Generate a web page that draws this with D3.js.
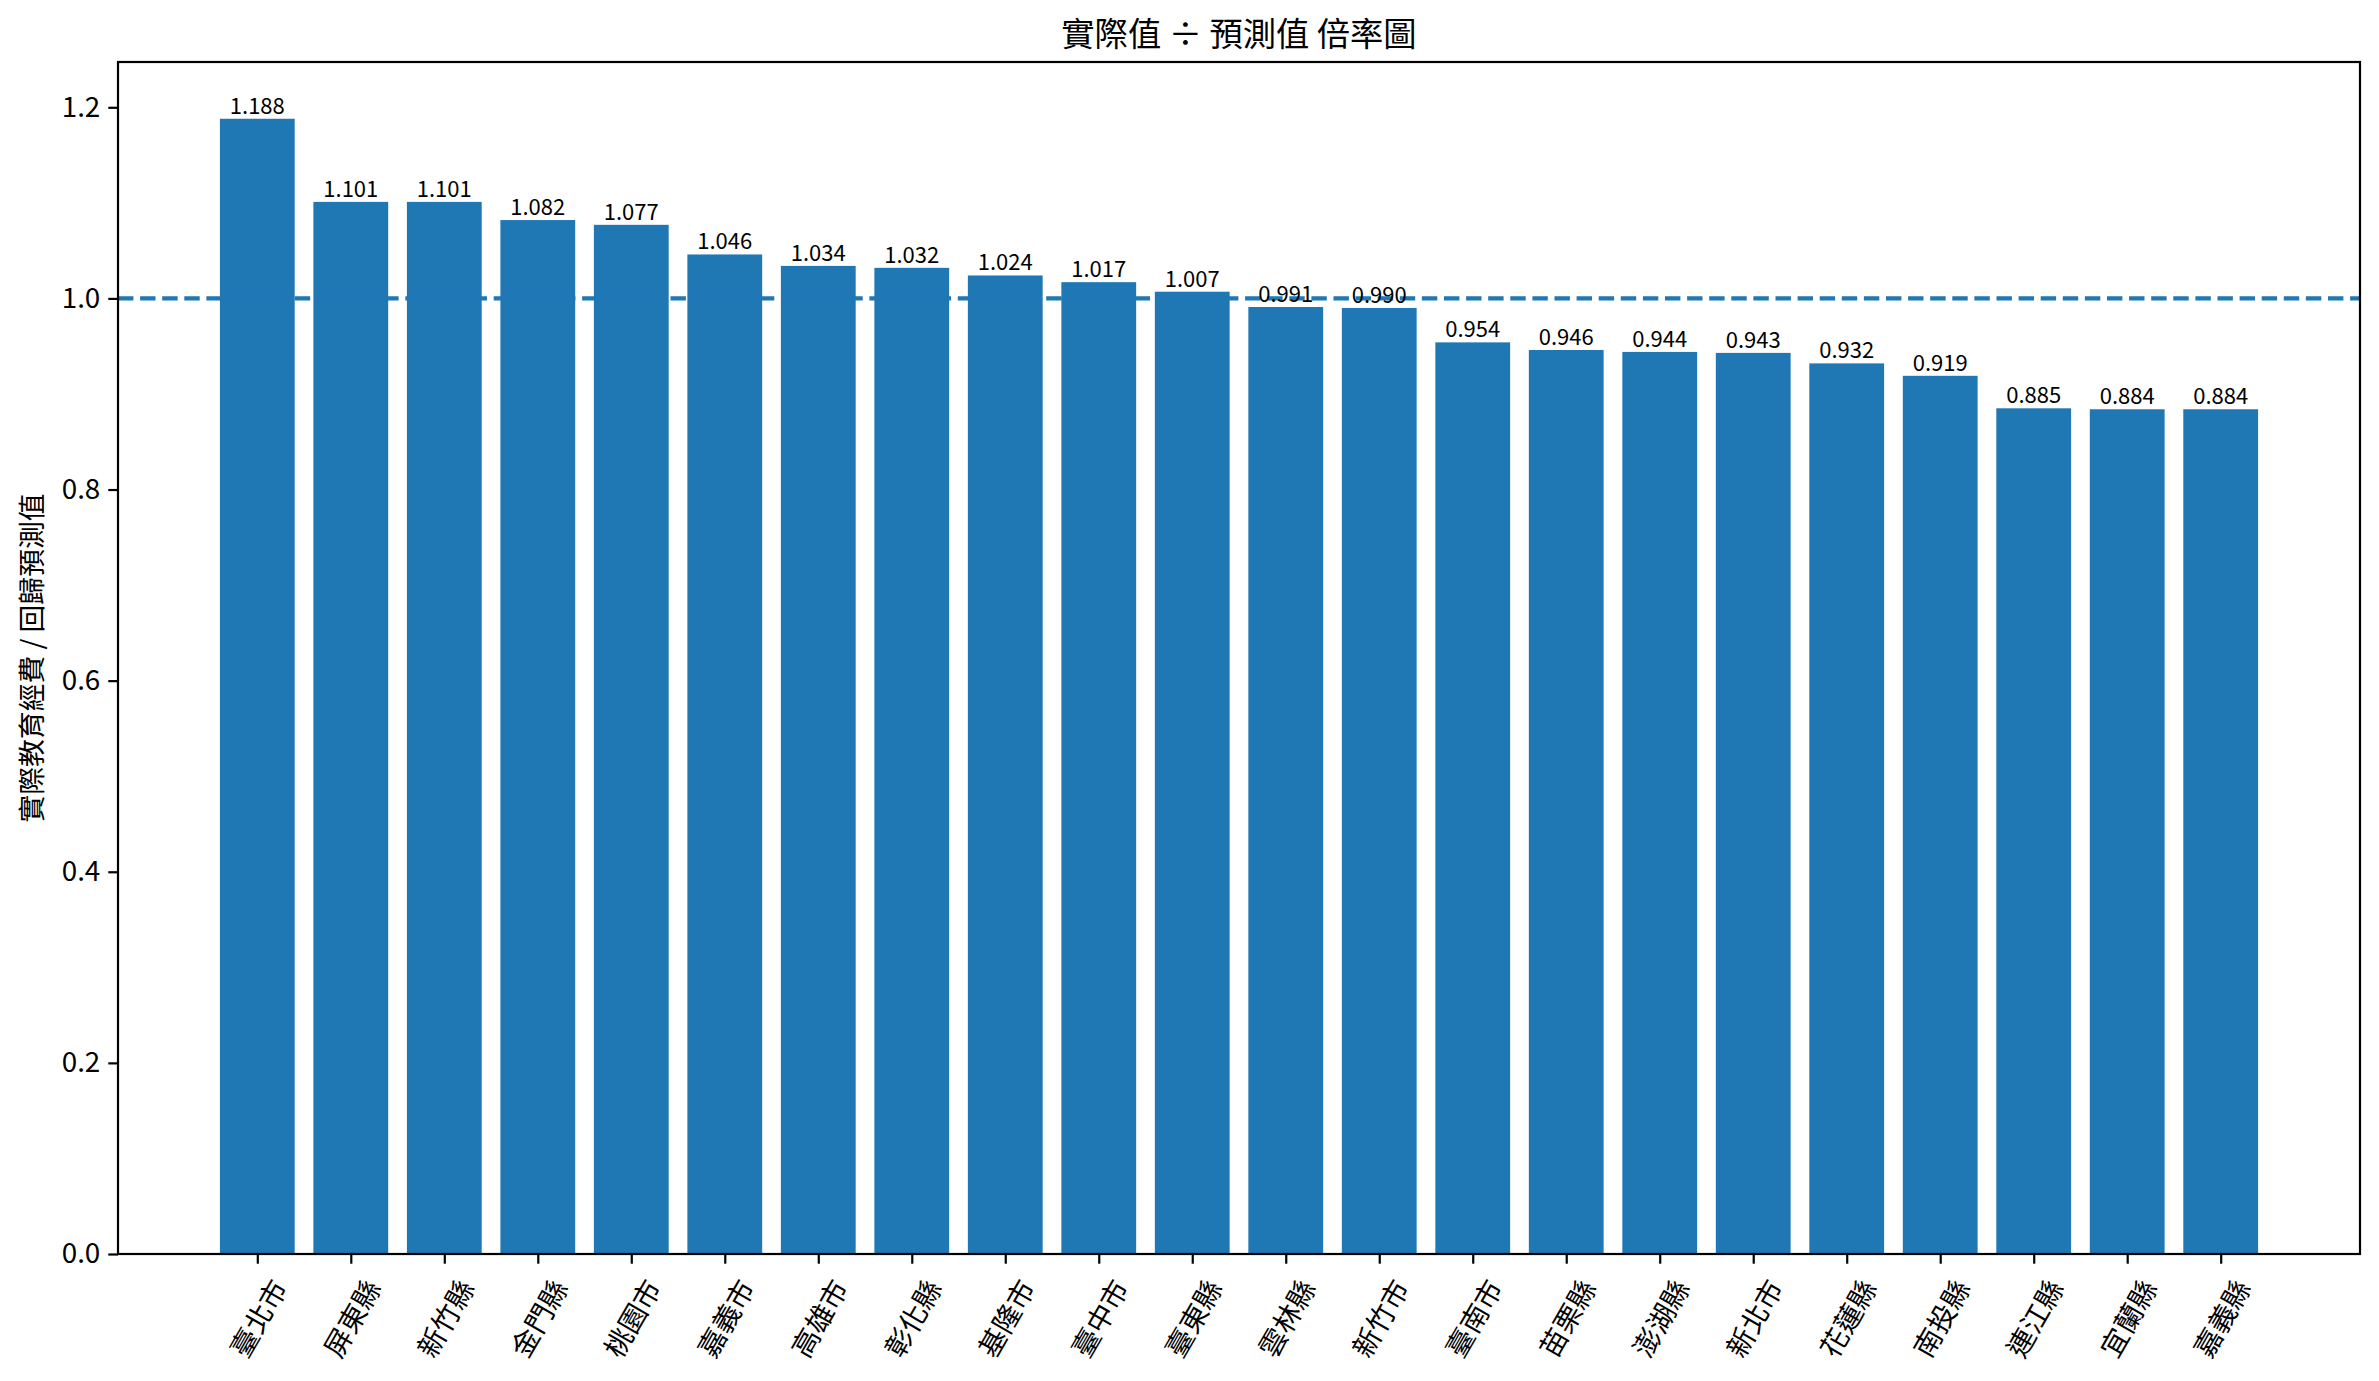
<!DOCTYPE html>
<html>
<head>
<meta charset="utf-8">
<script src="https://cdn.jsdelivr.net/npm/d3@7"></script>
<style>
  body { margin: 0; background: white; }
  text { font-family: "Noto Sans CJK TC", "Noto Sans", sans-serif; fill: black; }
</style>
</head>
<body>
<div id="chart"></div>
<script>
// data
const counties = ['臺北市', '屏東縣', '新竹縣', '金門縣', '桃園市', '嘉義市', '高雄市', '彰化縣', '基隆市', '臺中市', '臺東縣',
                  '雲林縣', '新竹市', '臺南市', '苗栗縣', '澎湖縣', '新北市', '花蓮縣', '南投縣', '連江縣', '宜蘭縣', '嘉義縣'];
const ratios = [1.188, 1.101, 1.101, 1.082, 1.077, 1.046, 1.034, 1.032, 1.024, 1.017, 1.007,
                0.991, 0.990, 0.954, 0.946, 0.944, 0.943, 0.932, 0.919, 0.885, 0.884, 0.884];
const yTicks = [0.0, 0.2, 0.4, 0.6, 0.8, 1.0, 1.2];
const refLine = 1.0;
const titleText = '實際值 ÷ 預測值 倍率圖';
const yLabel = '實際教育經費 / 回歸預測值';

const w = 2379;
const h = 1381;
const padL = 118, padR = 2360, padT = 62, padB = 1254;
const blue = '#1f77b4';

const svg = d3.select('#chart')
  .append('svg')
  .attr('width', w)
  .attr('height', h);

// matplotlib style limits: bars at integer positions, 5% margins
const n = counties.length;
const span = (n - 1) + 0.8;
const xScale = d3.scaleLinear([-0.4 - span * 0.05, n - 1 + 0.4 + span * 0.05], [padL, padR]);
const yScale = d3.scaleLinear([0, d3.max(ratios) * 1.05], [padB, padT]);

svg.selectAll('rect.bar')
  .data(ratios)
  .enter()
  .append('rect')
  .attr('class', 'bar')
  .attr('x', (d, i) => xScale(i - 0.4))
  .attr('width', (d, i) => xScale(i + 0.4) - xScale(i - 0.4))
  .attr('y', d => yScale(d))
  .attr('height', d => yScale(0) - yScale(d))
  .attr('fill', blue);

// dashed reference line at 1.0
svg.append('line')
  .attr('x1', padL)
  .attr('x2', padR)
  .attr('y1', yScale(refLine))
  .attr('y2', yScale(refLine))
  .attr('stroke', blue)
  .attr('stroke-width', 4.2)
  .attr('stroke-dasharray', '15.4,6.7');

// value labels
svg.selectAll('text.val')
  .data(ratios)
  .enter()
  .append('text')
  .attr('class', 'val')
  .attr('x', (d, i) => xScale(i))
  .attr('y', d => yScale(d) - 5)
  .attr('text-anchor', 'middle')
  .attr('font-size', 22)
  .text(d => d.toFixed(3));

// y axis
const yAxis = d3.axisLeft(yScale)
  .tickValues(yTicks)
  .tickFormat(d3.format('.1f'))
  .tickSize(9.7)
  .tickPadding(8);

svg.append('g')
  .attr('transform', 'translate(' + padL + ',0)')
  .call(yAxis)
  .call(g => g.select('.domain').remove())
  .call(g => g.selectAll('.tick line').attr('stroke', 'black').attr('stroke-width', 2.2))
  .call(g => g.selectAll('.tick text')
      .attr('font-family', '"Noto Sans CJK TC", sans-serif')
      .attr('font-size', 27.8)
      .attr('fill', 'black'));

// x axis ticks
const xAxis = d3.axisBottom(xScale)
  .tickValues(d3.range(n))
  .tickFormat('')
  .tickSize(9.7);

svg.append('g')
  .attr('transform', 'translate(0,' + padB + ')')
  .call(xAxis)
  .call(g => g.select('.domain').remove())
  .call(g => g.selectAll('.tick line').attr('stroke', 'black').attr('stroke-width', 2.2));

// rotated county labels, centred under each tick like matplotlib rotation=60
const labelTop = padB + 19.4;
const fs = 27.8;
const sin60 = Math.sin(Math.PI / 3), cos60 = Math.cos(Math.PI / 3);
svg.selectAll('text.xlab')
  .data(counties)
  .enter()
  .append('text')
  .attr('class', 'xlab')
  .attr('font-size', fs)
  .attr('text-anchor', 'middle')
  .attr('dominant-baseline', 'central')
  .text(d => d)
  .each(function(d, i) {
    const len = this.getComputedTextLength();
    const bh = len * sin60 + fs * 1.16 * cos60;
    const cx = xScale(i);
    const cy = labelTop + bh / 2;
    d3.select(this).attr('transform', 'translate(' + cx + ',' + cy + ') rotate(-60)');
  });

// frame
svg.append('rect')
  .attr('x', padL)
  .attr('y', padT)
  .attr('width', padR - padL)
  .attr('height', padB - padT)
  .attr('fill', 'none')
  .attr('stroke', 'black')
  .attr('stroke-width', 2.2);

// title and y label
svg.append('text')
  .attr('x', (padL + padR) / 2)
  .attr('y', padT - 16)
  .attr('text-anchor', 'middle')
  .attr('font-size', 33.3)
  .text(titleText);

svg.append('text')
  .attr('transform', 'translate(' + 42 + ',' + ((padT + padB) / 2) + ') rotate(-90)')
  .attr('text-anchor', 'middle')
  .attr('font-size', 27.8)
  .text(yLabel);
</script>
</body>
</html>
